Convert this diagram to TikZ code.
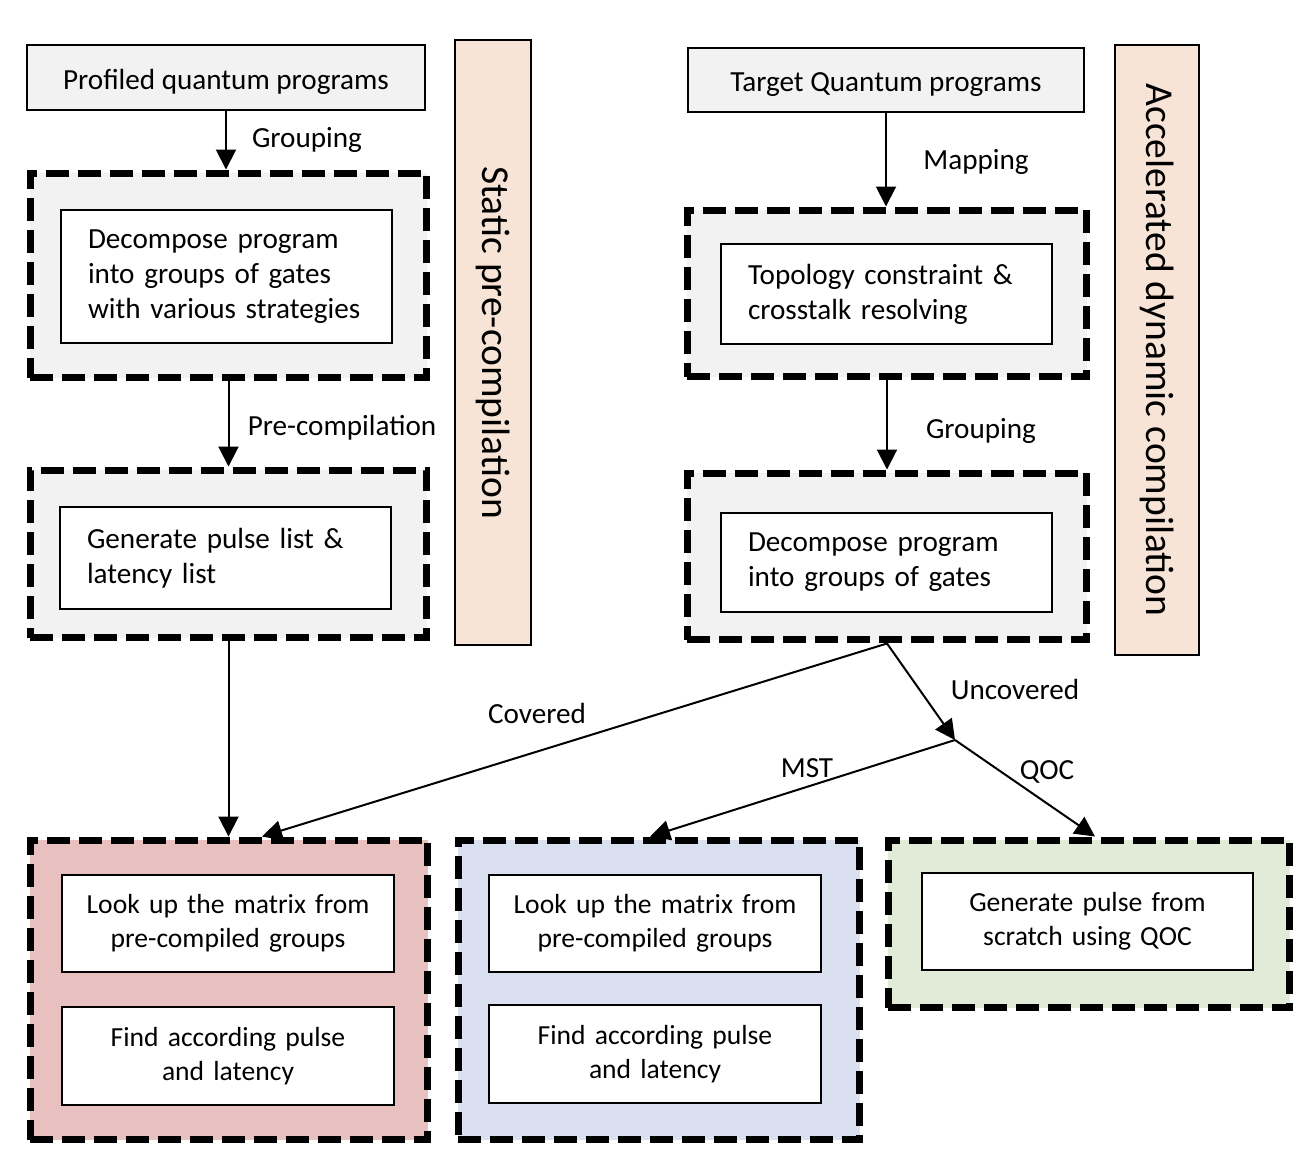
\documentclass[tikz,border=0pt]{standalone}
\usepackage{fontspec}
\setmainfont{Carlito}
\usetikzlibrary{arrows.meta,calc}
\definecolor{boxgray}{HTML}{F2F2F2}
\definecolor{peach}{HTML}{F8E4D6}
\definecolor{redfill}{HTML}{E8C0C0}
\definecolor{bluefill}{HTML}{DAE0EF}
\definecolor{greenfill}{HTML}{E2EBD8}
\begin{document}
\begin{tikzpicture}[x=0.02cm, y=-0.02cm, line width=0.04cm,
        >={Triangle[length=0.4cm,width=0.4cm]},
        lab/.style={font=\fontsize{16.6}{19.9}\selectfont},
        topbox/.style={draw, fill=boxgray, text height=0.6cm, text depth=0.12cm, lab},
        bar/.style={draw, fill=peach, rotate=-90, font=\fontsize{22.5}{26}\selectfont},
        group/.style={draw, line width=0.14cm, dash pattern=on 0.46cm off 0.18cm},
        inbox/.style={draw, fill=white, minimum width=6.64cm, text width=5.54cm, inner xsep=0.55cm, align=left, lab},
        lookbox/.style={inbox, text width=6.3cm, inner xsep=0.17cm, align=center, font=\fontsize{15.7}{19.3}\selectfont}]
        \useasboundingbox (0,0) rectangle (1316,1166);

        \node[topbox, minimum width=7.96cm, minimum height=1.3cm] (prof) at (226,77.5) {Profiled quantum programs};
        \node[topbox, minimum width=7.92cm, minimum height=1.28cm] (target) at (886,80) {Target Quantum programs};
        \node[bar, minimum width=12.1cm, minimum height=1.52cm] (stat) at (493,342.5) {Static pre-compilation};
        \node[bar, minimum width=12.2cm, minimum height=1.68cm] (dyn) at (1157,350) {Accelerated dynamic compilation};

        \node[group, fill=boxgray, minimum width=7.94cm, minimum height=4.1cm] (grp1) at (228.5,275.5) {};
        \node[inbox, minimum height=2.66cm] (dec1) at (226.5,276.5) {Decompose program\\into groups of gates\\with various strategies};
        \node[group, fill=boxgray, minimum width=7.94cm, minimum height=3.36cm] (grp2) at (228.5,554) {};
        \node[inbox, minimum height=2.04cm] (gen1) at (225.5,558) {Generate pulse list \&\\latency list};
        \node[group, fill=boxgray, minimum width=8cm, minimum height=3.34cm] (grp3) at (887,293.5) {};
        \node[inbox, minimum height=2cm] (topo) at (886.5,294) {Topology constraint \&\\crosstalk resolving};
        \node[group, fill=boxgray, minimum width=8cm, minimum height=3.34cm] (grp4) at (887,556.5) {};
        \node[inbox, minimum height=1.98cm] (dec2) at (886.5,562.5) {Decompose program\\into groups of gates};

        \node[group, fill=redfill, minimum width=7.96cm, minimum height=6cm] (red) at (229,990) {};
        \node[lookbox, minimum height=1.94cm] (look1) at (228,923.5) {Look up the matrix from\\pre-compiled groups};
        \node[lookbox, minimum height=1.96cm] (find1) at (228,1056) {Find according pulse\\and latency};
        \node[group, fill=bluefill, minimum width=8.04cm, minimum height=6cm] (blue) at (659,990) {};
        \node[lookbox, minimum height=1.94cm] (look2) at (655,923.5) {Look up the matrix from\\pre-compiled groups};
        \node[lookbox, minimum height=1.96cm] (find2) at (655,1054) {Find according pulse\\and latency};
        \node[group, fill=greenfill, minimum width=8.04cm, minimum height=3.36cm] (green) at (1089,924) {};
        \node[lookbox, minimum height=1.94cm] (qoc) at (1087.5,921.5) {Generate pulse from\\scratch using QOC};

        \coordinate (split) at (955,740);
        \draw[->] (prof.south) -- (prof.south |- grp1.north);
        \draw[->] (grp1.south) -- (grp1.south |- grp2.north);
        \draw[->] (grp2.south) -- (grp2.south |- red.north);
        \draw[->] (target.south) -- (target.south |- grp3.north);
        \draw[->] (grp3.south) -- (grp3.south |- grp4.north);
        \draw[->] (grp4.south) -- ($(red.north)+(33,0)$);
        \draw[->] (grp4.south) -- (split);
        \draw[->] (split) -- ($(blue.north)+(-9,0)$);
        \draw[->] (split) -- ($(green.north)+(6,0)$);

        \node[lab] (lgrp1) at (307,140) {Grouping};
        \node[lab] (lpre) at (342,428) {Pre-compilation};
        \node[lab] (lmap) at (976,162) {Mapping};
        \node[lab] (lgrp2) at (981,431) {Grouping};
        \node[lab] (lcov) at (537,713) {Covered};
        \node[lab] (lunc) at (1015,689) {Uncovered};
        \node[lab] (lmst) at (807,768) {MST};
        \node[lab] (lqoc) at (1047,772) {QOC};
\end{tikzpicture}
\end{document}
